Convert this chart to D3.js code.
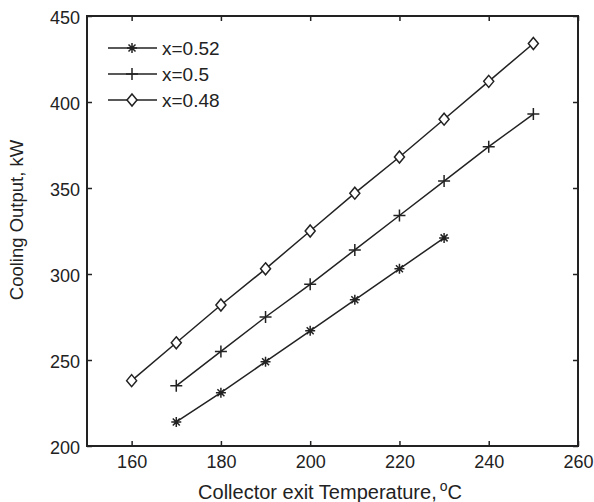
<!DOCTYPE html>
<html>
<head>
<meta charset="utf-8">
<script src="https://cdn.jsdelivr.net/npm/d3@7"></script>
<style>
body { margin: 0; background: #fff; }
svg text { font-family: "Liberation Sans", Arial, sans-serif; fill: #222; }
</style>
</head>
<body>
<div id="chart"></div>
<script>
var temps48 = [160, 170, 180, 190, 200, 210, 220, 230, 240, 250];
var vals48 = [238, 260, 282, 303, 325, 347, 368, 390, 412, 434];
var temps50 = [170, 180, 190, 200, 210, 220, 230, 240, 250];
var vals50 = [235, 255, 275, 294, 314, 334, 354, 374, 393];
var temps52 = [170, 180, 190, 200, 210, 220, 230];
var vals52 = [214, 231, 249, 267, 285, 303, 321];
var seriesNames = ["x=0.52", "x=0.5", "x=0.48"];
var xTicks = [160, 180, 200, 220, 240, 260];
var yTicks = [200, 250, 300, 350, 400, 450];

var width = 594, height = 502;
// note: "top" is taken by window.top, so plot edges get their own names
var plotL = 87, plotR = 578, plotT = 16, plotB = 446;
var ink = "#222";

var svg = d3.select("#chart").append("svg")
		.attr("width", width)
		.attr("height", height);

var x = d3.scaleLinear().domain([150, 260]).range([plotL, plotR]);
var y = d3.scaleLinear().domain([200, 450]).range([plotB, plotT]);

// axes, ticks inward like matlab
var xAxisG = svg.append("g")
		.attr("transform", "translate(0," + plotB + ")")
		.call(d3.axisBottom(x).tickValues(xTicks).tickSizeInner(-5).tickSizeOuter(0))
		.call(function(g) {g.select(".domain").remove();});
xAxisG.selectAll(".tick text").attr("y", 22).attr("dy", 0);

svg.append("g")
		.attr("transform", "translate(" + plotL + ",0)")
		.call(d3.axisLeft(y).tickValues(yTicks).tickSizeInner(-5).tickSizeOuter(0).tickPadding(7))
		.call(function(g) {g.select(".domain").remove();})
		.selectAll(".tick text").attr("dy", "0.4em");
svg.append("g")
		.attr("transform", "translate(0," + plotT + ")")
		.call(d3.axisTop(x).tickValues(xTicks).tickSizeInner(-5).tickSizeOuter(0).tickFormat(""))
		.call(function(g) {g.select(".domain").remove();});
svg.append("g")
		.attr("transform", "translate(" + plotR + ",0)")
		.call(d3.axisRight(y).tickValues(yTicks).tickSizeInner(-5).tickSizeOuter(0).tickFormat(""))
		.call(function(g) {g.select(".domain").remove();});

svg.selectAll(".tick line").attr("stroke", ink).attr("stroke-width", 1.5);
svg.selectAll(".tick text").attr("font-size", 18).attr("fill", ink)
		.style("font-family", "'Liberation Sans', Arial, sans-serif");

svg.append("rect")
		.attr("x", plotL).attr("y", plotT)
		.attr("width", plotR - plotL).attr("height", plotB - plotT)
		.attr("fill", "none").attr("stroke", ink).attr("stroke-width", 2);

var xLabel = svg.append("text")
		.attr("x", 330)
		.attr("y", 499)
		.attr("text-anchor", "middle")
		.attr("font-size", 20);
xLabel.append("tspan").text("Collector exit Temperature,");
xLabel.append("tspan").attr("dx", 3).attr("dy", -8).attr("font-size", 14).text("o");
xLabel.append("tspan").attr("dy", 8).text("C");

svg.append("text")
		.attr("transform", "translate(23,220) rotate(-90)")
		.attr("text-anchor", "middle")
		.attr("font-size", 18.5)
		.text("Cooling Output, kW");

function marker(g, type, cx, cy) {
	var s = 5;
	if (type == "star") {
		g.append("path")
				.attr("d", "M" + (cx - s) + "," + cy + "H" + (cx + s)
					+ "M" + cx + "," + (cy - s) + "V" + (cy + s)
					+ "M" + (cx - 3.5) + "," + (cy - 3.5) + "L" + (cx + 3.5) + "," + (cy + 3.5)
					+ "M" + (cx - 3.5) + "," + (cy + 3.5) + "L" + (cx + 3.5) + "," + (cy - 3.5))
				.attr("stroke", ink).attr("stroke-width", 1.5).attr("fill", "none");
	} else if (type == "plus") {
		g.append("path")
				.attr("d", "M" + (cx - 6) + "," + cy + "H" + (cx + 6)
					+ "M" + cx + "," + (cy - 6) + "V" + (cy + 6))
				.attr("stroke", ink).attr("stroke-width", 1.5).attr("fill", "none");
	} else {
		g.append("path")
				.attr("d", "M" + cx + "," + (cy - 6) + "L" + (cx + 5) + "," + cy
					+ "L" + cx + "," + (cy + 6) + "L" + (cx - 5) + "," + cy + "Z")
				.attr("stroke", ink).attr("stroke-width", 1.5).attr("fill", "#fff");
	}
}

var series = [
	{name: seriesNames[0], t: temps52, v: vals52, m: "star"},
	{name: seriesNames[1], t: temps50, v: vals50, m: "plus"},
	{name: seriesNames[2], t: temps48, v: vals48, m: "diamond"}
];

var line = d3.line()
		.x(function(d) {return x(d[0]);})
		.y(function(d) {return y(d[1]);});

series.forEach(function(s) {
	var pts = s.t.map(function(t, i) {return [t, s.v[i]];});
	var g = svg.append("g");
	g.append("path")
			.attr("d", line(pts))
			.attr("fill", "none")
			.attr("stroke", ink)
			.attr("stroke-width", 1.5);
	pts.forEach(function(p) {marker(g, s.m, x(p[0]), y(p[1]));});
});

// legend
var legend = svg.append("g");
series.forEach(function(s, i) {
	var ly = 48 + i * 26;
	legend.append("line")
			.attr("x1", 108).attr("x2", 157)
			.attr("y1", ly).attr("y2", ly)
			.attr("stroke", ink).attr("stroke-width", 1.5);
	marker(legend, s.m, 132, ly);
	legend.append("text")
			.attr("x", 162).attr("y", ly + 6.5)
			.attr("font-size", 19)
			.text(s.name);
});
</script>
</body>
</html>
